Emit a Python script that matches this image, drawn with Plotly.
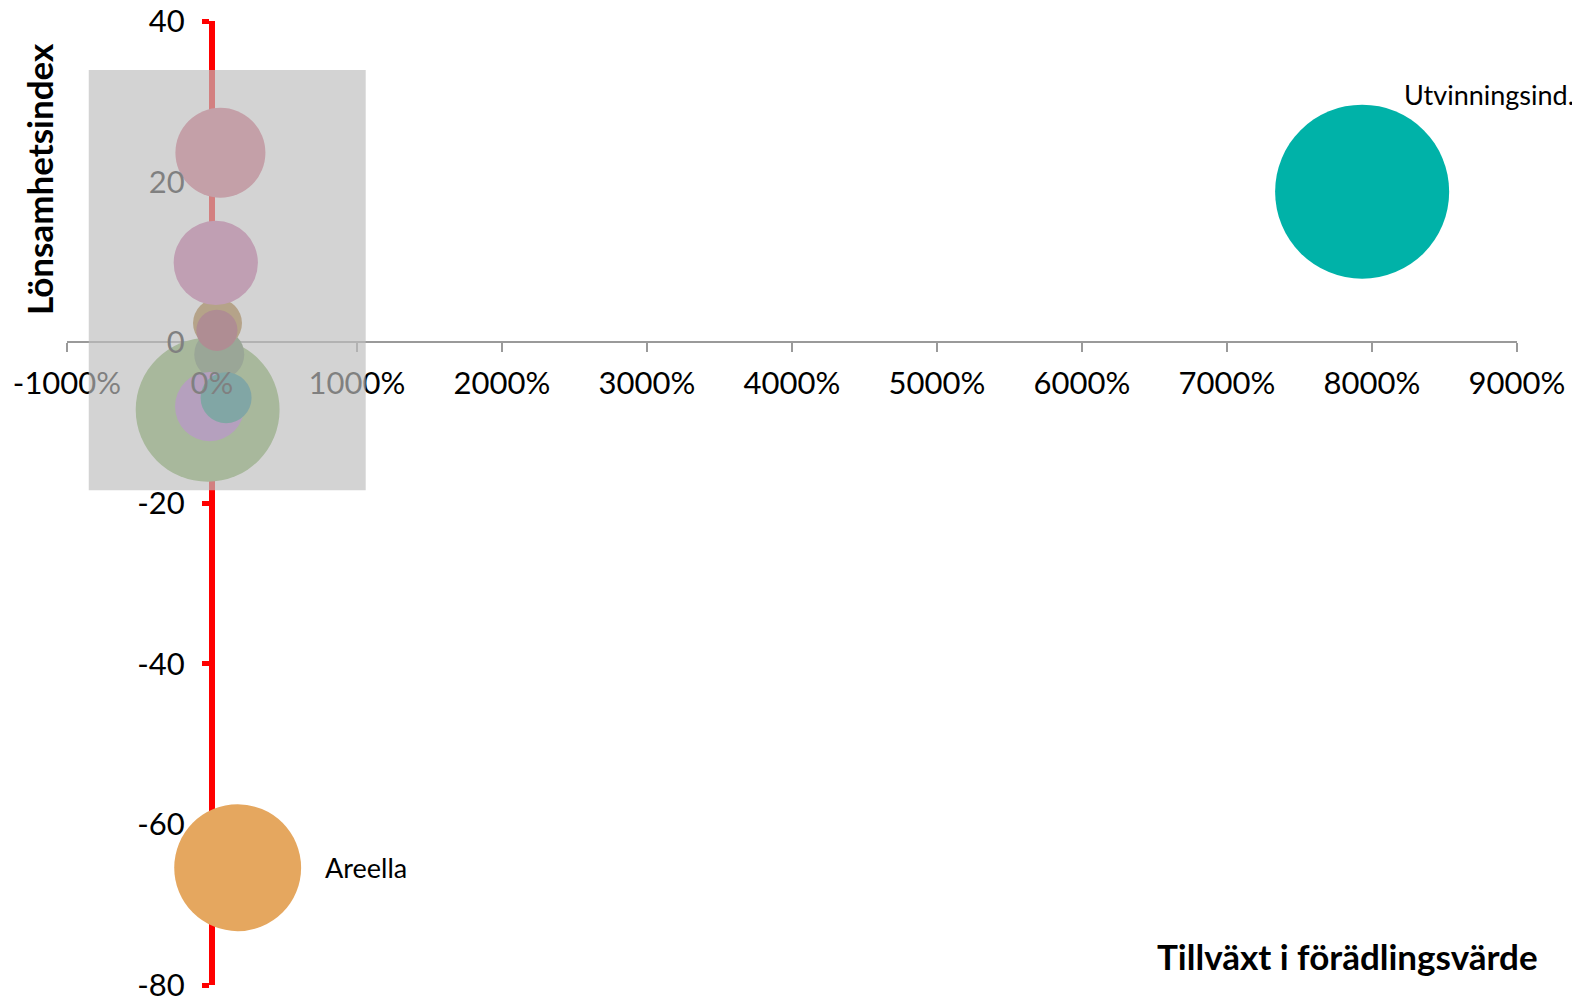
import plotly.graph_objects as go

# ---- data ----
industries = ["Bransch A", "Bransch B", "Bransch C", "Bransch D", "Bransch E",
              "Bransch F", "Bransch G", "Bransch H", "Areella", "Utvinningsind."]
growth = [-0.30, 0.50, -0.16, 0.97, 0.38, 0.34, 0.26, 0.58, 1.77, 79.32]      # förädlingsvärde (fraction, 1 = 100%)
profit = [-8.4, -1.5, -8.0, -6.9, 2.4, 1.5, 9.9, 23.6, -65.4, 18.75]           # lönsamhetsindex
size_val = [207, 25, 48, 26, 24, 17, 71, 81, 161, 303]
colors = ["#7bac56", "#507547", "#a362bf", "#067572", "#a36c1c",
          "#91283a", "#c55f9d", "#d1627b", "#e5a75f", "#00b2a8"]

x_tickvals = [-10, 0, 10, 20, 30, 40, 50, 60, 70, 80, 90]
x_ticktext = ["-1000%", "0%", "1000%", "2000%", "3000%", "4000%",
              "5000%", "6000%", "7000%", "8000%", "9000%"]
y_tickvals = [40, 20, 0, -20, -40, -60, -80]
y_ticktext = ["40", "20", "0", "-20", "-40", "-60", "-80"]

x_range = [-10, 90]
y_range = [-80, 40]
highlight_box = dict(x0=-8.5, x1=10.6, y0=-18.4, y1=33.9)
labelled = {"Utvinningsind.": (40, 97), "Areella": (85, 0)}

FONT = "Lato"

fig = go.Figure()
fig.add_trace(go.Scatter(
    x=growth, y=profit, mode="markers", text=industries,
    marker=dict(size=size_val, sizemode="area", sizeref=0.02,
                color=colors, opacity=1, line=dict(width=0)),
    showlegend=False, hovertemplate="%{text}<br>%{x:.0%}<br>%{y}<extra></extra>",
))
# dummy trace for overlay axes (tick labels drawn above the bubbles)
fig.add_trace(go.Scatter(x=[None], y=[None], xaxis="x2", yaxis="y2",
                         showlegend=False, hoverinfo="skip"))

xpos = (0 - y_range[0]) / (y_range[1] - y_range[0])
ypos = (0 - x_range[0]) / (x_range[1] - x_range[0])

common_x = dict(range=x_range, tickvals=x_tickvals, ticktext=x_ticktext,
                anchor="free", position=xpos, showgrid=False, zeroline=False,
                ticks="outside", ticklen=9, tickwidth=1.5, automargin=False,
                ticklabelstandoff=4, ticklabeloverflow="allow",
                tickfont=dict(family=FONT, size=31, color="black"))
common_y = dict(range=y_range, tickvals=y_tickvals, ticktext=y_ticktext,
                anchor="free", position=ypos, showgrid=False, zeroline=False,
                ticks="outside", ticklen=7, tickwidth=5, automargin=False,
                ticklabelstandoff=14, ticklabeloverflow="allow",
                tickfont=dict(family=FONT, size=31, color="black"))

# page body has an 8px margin, so the figure is 1572x990 placed at (8, 8)
fig.update_layout(
    width=1572, height=990,
    margin=dict(l=59, r=63, t=13, b=13),
    paper_bgcolor="white", plot_bgcolor="white",
    font=dict(family=FONT),
    xaxis=dict(**common_x, showline=True, linecolor="#9a9a9a", linewidth=1.5,
               tickcolor="#9a9a9a", showticklabels=False, layer="below traces"),
    yaxis=dict(**common_y, showline=True, linecolor="#ff0000", linewidth=6,
               tickcolor="#ff0000", showticklabels=False, layer="below traces"),
    xaxis2=dict(**common_x, overlaying="x", showline=False,
                tickcolor="rgba(0,0,0,0)", showticklabels=True, layer="above traces"),
    yaxis2=dict(**common_y, overlaying="y", showline=False,
                tickcolor="rgba(0,0,0,0)", showticklabels=True, layer="above traces"),
    shapes=[dict(type="rect", xref="x", yref="y", layer="above",
                 fillcolor="rgba(190,190,190,0.675)", line=dict(width=0),
                 **highlight_box)],
)

annotations = []
for name, (dx, dy) in labelled.items():
    i = industries.index(name)
    annotations.append(dict(x=growth[i], y=profit[i], xref="x", yref="y",
                            text=name, showarrow=False, xanchor="left", yanchor="middle",
                            xshift=dx, yshift=dy,
                            font=dict(family=FONT, size=27, color="black")))
annotations.append(dict(text="<b>Tillväxt i förädlingsvärde</b>", xref="paper", yref="paper",
                        x=1.016, y=0.03, xanchor="right", yanchor="middle", showarrow=False,
                        font=dict(family=FONT, size=35, color="black")))
annotations.append(dict(text="<b>Lönsamhetsindex</b>", xref="paper", yref="paper",
                        x=-0.0193, y=0.836, xanchor="center", yanchor="middle",
                        textangle=-90, showarrow=False,
                        font=dict(family=FONT, size=35, color="black")))
fig.update_layout(annotations=annotations)

fig.write_html("out.html")
